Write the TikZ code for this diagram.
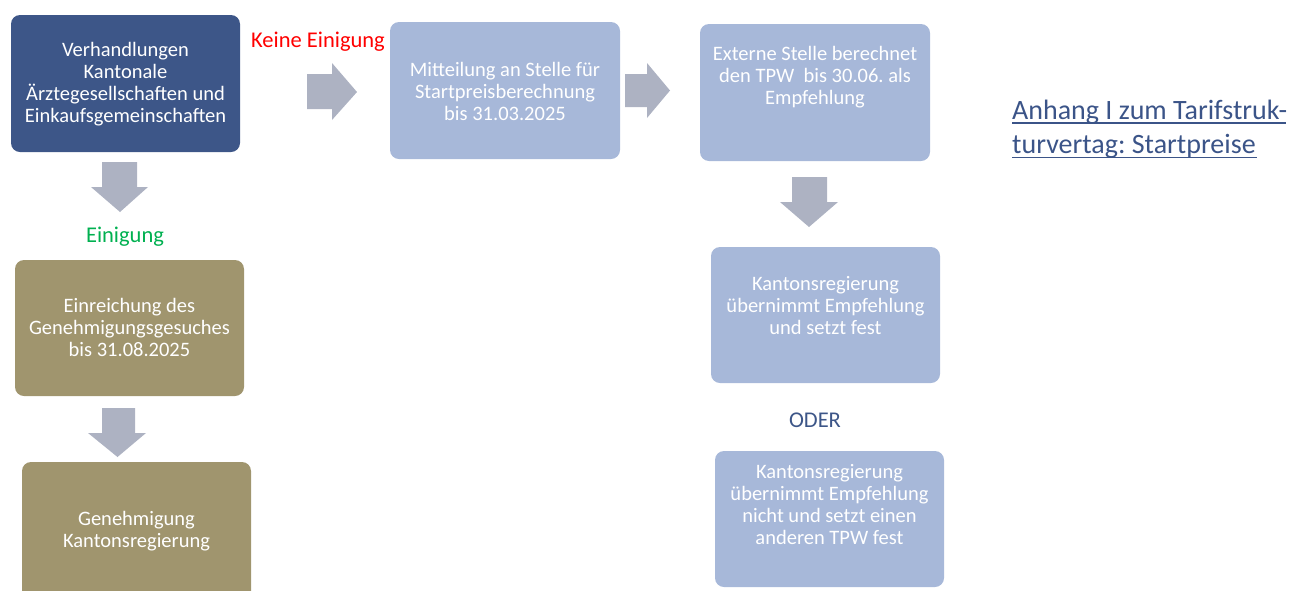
\documentclass[tikz,border=0pt]{standalone}
\usepackage{fontspec}
\setmainfont{Carlito}
\frenchspacing
\definecolor{dkblue}{RGB}{61,86,136}
\definecolor{ltblue}{RGB}{167,184,217}
\definecolor{olive}{RGB}{160,149,110}
\definecolor{arrgray}{RGB}{173,178,194}
\definecolor{okgreen}{RGB}{0,176,80}
\definecolor{titleblue}{RGB}{59,84,136}
\begin{document}
\begin{tikzpicture}[x=1pt,y=-1pt,
  boxbase/.style={rounded corners=9pt, draw=none, inner sep=0pt},
  dkbox/.style={boxbase, fill=dkblue},
  ltbox/.style={boxbase, fill=ltblue},
  olbox/.style={boxbase, fill=olive},
  boxtext/.style={align=center, text=white, font=\fontsize{20.5}{22}\selectfont, inner sep=0pt},
  blockarrow/.style={fill=arrgray, draw=none},
  label/.style={font=\fontsize{22.5}{26}\selectfont, inner sep=0pt}
]
\useasboundingbox (0,0) rectangle (1294,590);
\begin{scope}
\clip (0,0) rectangle (1294,590);
% boxes
\path[dkbox] (11,15) rectangle (240,152);
\path[ltbox] (390,22) rectangle (620,159);
\path[ltbox] (700,24) rectangle (930,161);
\path[ltbox] (711,247) rectangle (940,383);
\path[ltbox] (715,451) rectangle (944,587);
\path[olbox] (15,260) rectangle (244,396);
\path[olbox] (22,462) rectangle (251,610);
\end{scope}

% texts
\node[boxtext] (t1) at (125.5,84) {Verhandlungen\\Kantonale\\Ärztegesellschaften und\\Einkaufsgemeinschaften};
\node[boxtext] (t2) at (505,91) {Mitteilung an Stelle für\\Startpreisberechnung\\bis 31.03.2025};
\node[boxtext] (t3) at (815,77) {Externe Stelle berechnet\\den TPW\ \ bis 30.06. als\\Empfehlung};
\node[boxtext] (t4) at (825.5,306) {Kantonsregierung\\übernimmt Empfehlung\\und setzt fest};
\node[boxtext] (t5) at (829.5,505) {Kantonsregierung\\übernimmt Empfehlung\\nicht und setzt einen\\anderen TPW fest};
\node[boxtext] (t6) at (129.5,327) {Einreichung des\\Genehmigungsgesuches\\bis 31.08.2025};
\node[boxtext] (t7) at (136.5,531) {Genehmigung\\Kantonsregierung};

% labels
\node[label, text=red] (keine) at (318,42) {Keine Einigung};
\node[label, text=okgreen] (einig) at (125,237) {Einigung};
\node[label, text=dkblue] (oder) at (815,420) {ODER};

% block arrows
\path[blockarrow] (307,74) -- (332,74) -- (332,63) -- (357,92) -- (332,120) -- (332,109) -- (307,109) -- cycle;
\path[blockarrow] (625,74) -- (647,74) -- (647,63) -- (670,90.5) -- (647,118) -- (647,107) -- (625,107) -- cycle;
\path[blockarrow] (102,162) -- (137,162) -- (137,187) -- (148,187) -- (120,212) -- (91,187) -- (102,187) -- cycle;
\path[blockarrow] (102,408) -- (135,408) -- (135,433) -- (146,433) -- (117.5,457) -- (88,433) -- (102,433) -- cycle;
\path[blockarrow] (792,177) -- (827,177) -- (827,202) -- (838,202) -- (809,227) -- (780,202) -- (792,202) -- cycle;

% title
\node[anchor=base west, inner sep=0pt, text=titleblue, font=\fontsize{28}{34}\selectfont] (title1) at (1012,119) {Anhang I zum Tarifstruk-};
\node[anchor=base west, inner sep=0pt, text=titleblue, font=\fontsize{28}{34}\selectfont] (title2) at (1012,153) {turvertag: Startpreise};
\draw[titleblue, line width=1.8pt] (title1.base west) ++(0,4) -- ++(274,0);
\draw[titleblue, line width=1.8pt] (title2.base west) ++(0,4.5) -- ++(245,0);
\end{tikzpicture}
\end{document}
